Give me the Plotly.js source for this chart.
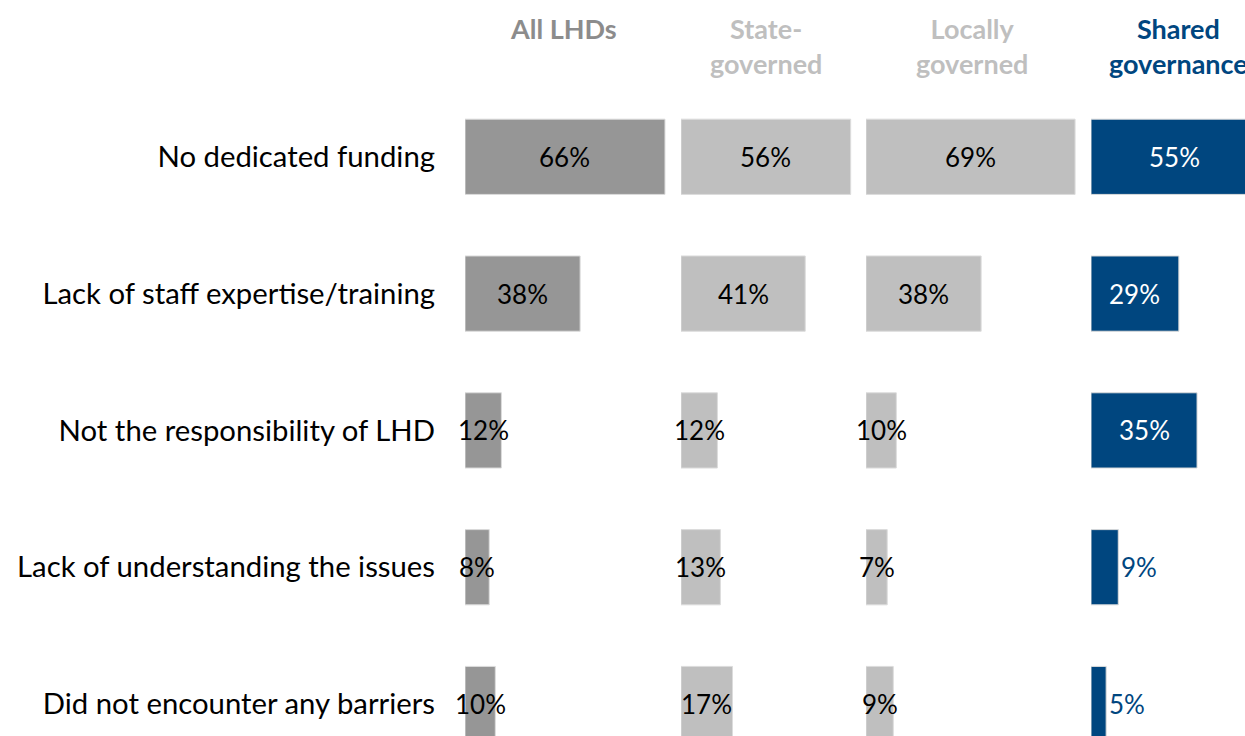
<!DOCTYPE html>
<html><head><meta charset="utf-8">
<script src="https://cdn.plot.ly/plotly-3.0.1.min.js"></script>
<style>html,body{margin:0;padding:0;background:#fff}#chart{width:1245px;height:736px}</style>
</head><body><div id="chart"></div>
<script>
// ---- data ----
const categories = ["No dedicated funding", "Lack of staff expertise/training", "Not the responsibility of LHD", "Lack of understanding the issues", "Did not encounter any barriers"];
const groupNames = ["All LHDs", "State-<br>governed", "Locally<br>governed", "Shared<br>governance"];
const allLHDs = [66, 38, 12, 8, 10];
const stateGoverned = [56, 41, 12, 13, 17];
const locallyGoverned = [69, 38, 10, 7, 9];
const sharedGovernance = [55, 29, 35, 9, 5];

// ---- styles / layout ----
const series = [allLHDs, stateGoverned, locallyGoverned, sharedGovernance];
const barColors = ["#969696", "#bfbfbf", "#bfbfbf", "#00467f"];
const headerColors = ["#8c8c8c", "#bfbfbf", "#bfbfbf", "#00467f"];
const W = 1245, H = 736, pxPerPct = 3.03;
const panelPx = [[465, 680], [681, 865], [866, 1090], [1091, 1245]];
const headerCenters = [563, 766, 972, 1178];
const FONT = "Lato, 'Open Sans', sans-serif";

const axNames = ["x", "x2", "x3", "x4"];
const traces = series.map((vals, i) => ({
  type: "bar", orientation: "h",
  x: vals, y: categories,
  xaxis: axNames[i], yaxis: "y",
  width: 0.55,
  marker: {color: barColors[i], line: {color: "#dcdcdc", width: 1}},
  hoverinfo: "skip", showlegend: false
}));

const layout = {
  width: W, height: H,
  margin: {l: 0, r: 0, t: 0, b: 0, pad: 0},
  paper_bgcolor: "#fff", plot_bgcolor: "#fff",
  showlegend: false, hovermode: false,
  font: {family: FONT, color: "#000"},
  yaxis: {
    type: "category", categoryorder: "array", categoryarray: categories,
    range: [4 + 32 / 137, -157 / 137], autorange: false,
    showgrid: false, zeroline: false, showline: false, ticks: "",
    ticklabelstandoff: 29,
    tickfont: {family: FONT, size: 29.3, color: "#000"},
    fixedrange: true
  },
  annotations: []
};

panelPx.forEach((p, i) => {
  const key = i === 0 ? "xaxis" : "xaxis" + (i + 1);
  layout[key] = {
    domain: [p[0] / W, p[1] / W],
    range: [0, (p[1] - p[0]) / pxPerPct], autorange: false,
    visible: false, fixedrange: true, anchor: "y"
  };
  // header
  layout.annotations.push({
    xref: "paper", yref: "paper",
    x: headerCenters[i] / W, y: 1 - 10 / H,
    xanchor: "center", yanchor: "top",
    text: "<b>" + groupNames[i] + "</b>", showarrow: false, align: "center",
    font: {family: FONT, size: 27, color: headerColors[i]}
  });
  // value labels
  series[i].forEach((v, j) => {
    const isBlue = i === 3;
    const outside = isBlue && v < 15;
    layout.annotations.push({
      xref: axNames[i], yref: "y",
      x: outside ? v : v / 2, y: categories[j],
      xanchor: outside ? "left" : "center", yanchor: "middle",
      xshift: outside ? 1 : 0,
      text: v + "%", showarrow: false,
      font: {family: FONT, size: 26, color: isBlue ? (outside ? "#00467f" : "#ffffff") : "#000"}
    });
  });
});

Plotly.newPlot("chart", traces, layout, {displayModeBar: false, staticPlot: true});
</script>
</body></html>
